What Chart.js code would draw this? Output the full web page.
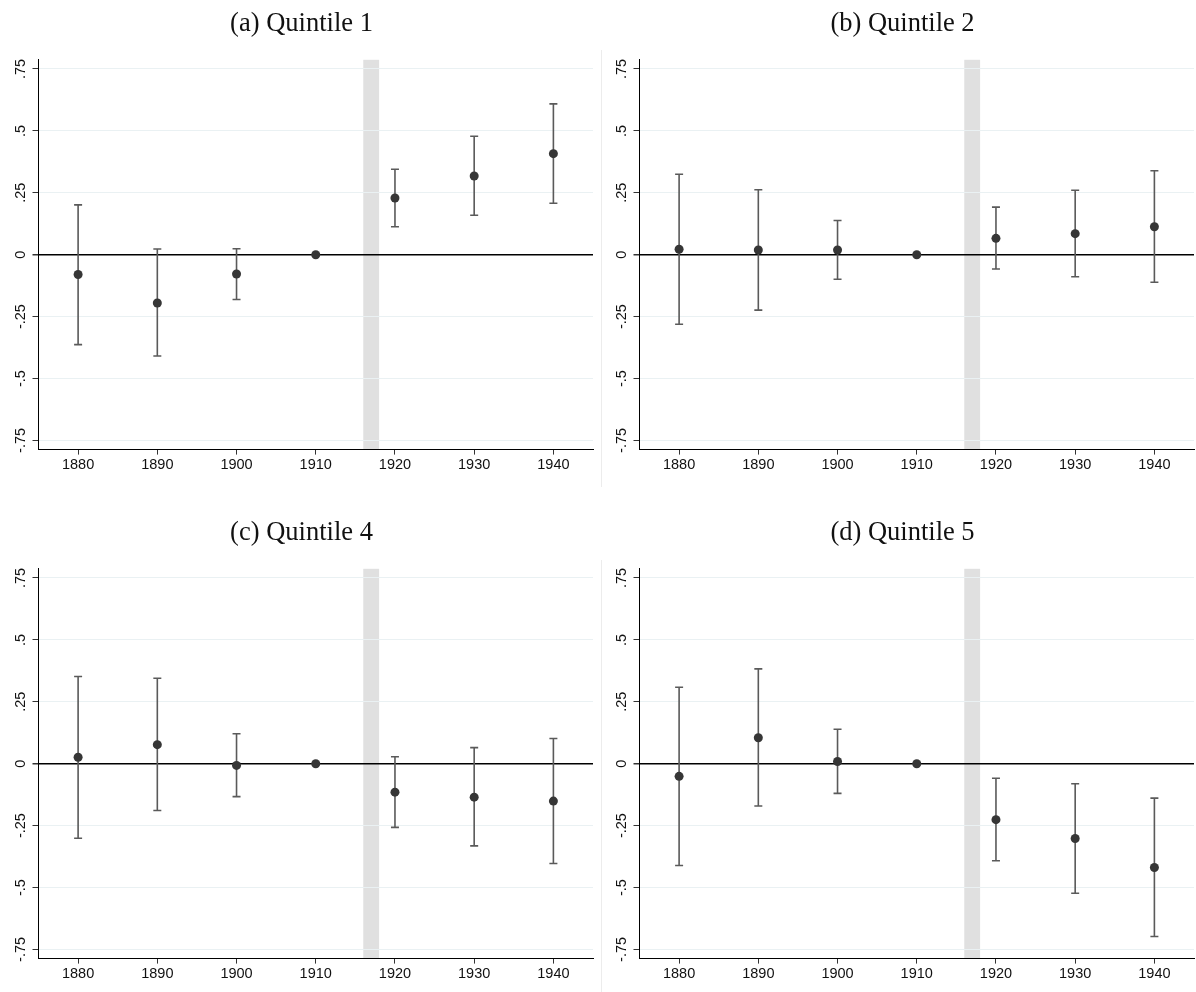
<!DOCTYPE html>
<html>
<head>
<meta charset="utf-8">
<script src="https://cdn.jsdelivr.net/npm/chart.js"></script>
<style>
  html, body { margin: 0; padding: 0; background: #fff; overflow: hidden; width: 1196px; height: 992px; }
  canvas { position: absolute; }
  .sep { position: absolute; left: 601px; width: 1px; background: #ececec; }
</style>
</head>
<body>
<div class="sep" style="top:50px;height:437px"></div>
<div class="sep" style="top:560px;height:432px"></div>
<canvas id="qa" width="603" height="490" style="left:0;top:0"></canvas>
<canvas id="qb" width="603" height="490" style="left:601px;top:0"></canvas>
<canvas id="qc" width="603" height="490" style="left:0;top:509px"></canvas>
<canvas id="qd" width="603" height="490" style="left:601px;top:509px"></canvas>
<script>
const years = [1880, 1890, 1900, 1910, 1920, 1930, 1940];
const yTicks = [0.75, 0.5, 0.25, 0, -0.25, -0.5, -0.75];
const yTickLabels = [".75", ".5", ".25", "0", "-.25", "-.5", "-.75"];
const warStart = 1916;
const warEnd = 1918;

// point estimates and 95% bounds
const q1Est = [-0.08, -0.195, -0.078, 0, 0.229, 0.318, 0.408];
const q1Lo = [-0.363, -0.409, -0.181, 0, 0.113, 0.159, 0.208];
const q1Hi = [0.201, 0.023, 0.024, 0, 0.345, 0.478, 0.609];

const q2Est = [0.022, 0.019, 0.019, 0, 0.066, 0.085, 0.113];
const q2Lo = [-0.281, -0.224, -0.099, 0, -0.058, -0.089, -0.111];
const q2Hi = [0.325, 0.262, 0.138, 0, 0.192, 0.26, 0.339];

const q4Est = [0.026, 0.077, -0.007, 0, -0.115, -0.135, -0.151];
const q4Lo = [-0.301, -0.189, -0.133, 0, -0.257, -0.332, -0.403];
const q4Hi = [0.352, 0.345, 0.121, 0, 0.028, 0.065, 0.102];

const q5Est = [-0.051, 0.105, 0.009, 0, -0.226, -0.302, -0.419];
const q5Lo = [-0.411, -0.171, -0.12, 0, -0.392, -0.523, -0.698];
const q5Hi = [0.309, 0.383, 0.139, 0, -0.059, -0.081, -0.139];

Chart.defaults.font.family = '"Liberation Sans", Arial, sans-serif';

const extras = {
  id: "extras",
  beforeDraw(chart) {
    const { ctx, chartArea, scales: { x } } = chart;
    const x0 = x.getPixelForValue(warStart);
    const x1 = x.getPixelForValue(warEnd);
    ctx.save();
    ctx.fillStyle = "#e0e0e0";
    ctx.fillRect(x0, chartArea.top, x1 - x0, chartArea.bottom - chartArea.top);
    ctx.restore();
  },
  beforeDatasetsDraw(chart) {
    const { ctx, scales: { x, y } } = chart;
    const ds = chart.data.datasets[0];
    ctx.save();
    ctx.strokeStyle = "#5a5a5a";
    ctx.lineWidth = 1.6;
    ds.lo.forEach((lo, i) => {
      const hi = ds.hi[i];
      if (lo === hi) return;
      const px = x.getPixelForValue(years[i]);
      const pLo = y.getPixelForValue(lo);
      const pHi = y.getPixelForValue(hi);
      ctx.beginPath();
      ctx.moveTo(px, pLo);
      ctx.lineTo(px, pHi);
      ctx.moveTo(px - 4, pLo);
      ctx.lineTo(px + 4, pLo);
      ctx.moveTo(px - 4, pHi);
      ctx.lineTo(px + 4, pHi);
      ctx.stroke();
    });
    ctx.restore();
  },
  afterDraw(chart) {
    // Stata-style y labels, turned to read bottom-up
    const { ctx, chartArea, scales: { y } } = chart;
    ctx.save();
    ctx.font = '14.5px "Liberation Sans", Arial, sans-serif';
    ctx.fillStyle = "#111";
    ctx.textAlign = "center";
    ctx.textBaseline = "middle";
    yTicks.forEach((v, i) => {
      ctx.save();
      ctx.translate(chartArea.left - 17.5, y.getPixelForValue(v));
      ctx.rotate(-Math.PI / 2);
      ctx.fillText(yTickLabels[i], 0, 0);
      ctx.restore();
    });
    ctx.restore();
  },
};

function makePanel(id, title, est, lo, hi) {
  new Chart(document.getElementById(id), {
    type: "scatter",
    data: {
      datasets: [
        {
          data: years.map((yr, i) => ({ x: yr, y: est[i] })),
          lo: lo,
          hi: hi,
          backgroundColor: "#363636",
          borderWidth: 0,
          pointRadius: 4.5,
          pointHoverRadius: 4.5,
        },
      ],
    },
    plugins: [extras],
    options: {
      responsive: false,
      animation: false,
      events: [],
      layout: { padding: { left: 10, right: 10, bottom: 14 } },
      plugins: {
        legend: { display: false },
        tooltip: { enabled: false },
        title: {
          display: true,
          text: title,
          color: "#111",
          font: { family: '"Liberation Serif", "Times New Roman", serif', size: 26.5, weight: "normal" },
          padding: { top: 8, bottom: 20 },
        },
      },
      scales: {
        x: {
          type: "linear",
          min: 1875,
          max: 1945,
          afterBuildTicks: (s) => {
            s.ticks = years.map((v) => ({ value: v }));
          },
          ticks: { padding: 2, color: "#111", font: { size: 14.5 }, callback: (v) => String(v) },
          grid: { drawOnChartArea: false, tickLength: 5, tickColor: "#333" },
          border: { color: "#000", width: 1 },
        },
        y: {
          min: -0.787,
          max: 0.787,
          afterBuildTicks: (s) => {
            s.ticks = yTicks.map((v) => ({ value: v }));
          },
          afterFit: (s) => {
            s.width = 28.5;
          },
          ticks: { display: false },
          grid: {
            color: (c) => (c.tick && c.tick.value === 0 ? "#000" : "#eaf1f3"),
            lineWidth: (c) => (c.tick && c.tick.value === 0 ? 1.5 : 1),
            tickLength: 6,
            tickColor: "#333",
          },
          border: { color: "#000", width: 1 },
        },
      },
    },
  });
}

makePanel("qa", "(a) Quintile 1", q1Est, q1Lo, q1Hi);
makePanel("qb", "(b) Quintile 2", q2Est, q2Lo, q2Hi);
makePanel("qc", "(c) Quintile 4", q4Est, q4Lo, q4Hi);
makePanel("qd", "(d) Quintile 5", q5Est, q5Lo, q5Hi);
</script>
</body>
</html>
